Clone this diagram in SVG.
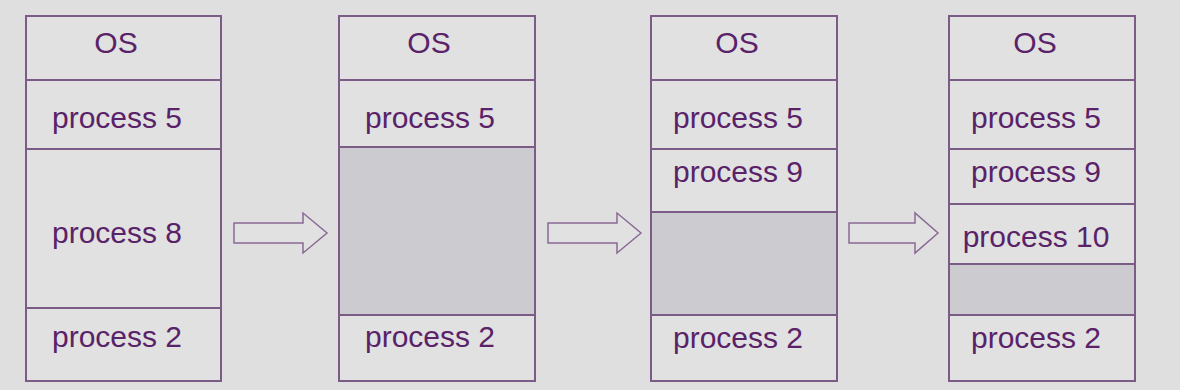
<svg xmlns="http://www.w3.org/2000/svg" width="1180" height="390" viewBox="0 0 1180 390">
<style>
.bg{fill:#dfdfdf}
.cell{fill:#e1e1e1;stroke:#7b5c86;stroke-width:2}
.free{fill:#cccbcf;stroke:#7b5c86;stroke-width:2}
.lbl{font-family:"Liberation Sans",Arial,sans-serif;font-size:30px;fill:#5a2268;text-anchor:middle}
.arr{fill:#e1e1e1;stroke:#8a6a95;stroke-width:1.5;stroke-linejoin:miter}
</style>
<rect class="bg" x="0" y="0" width="1180" height="390"/>
<g id="mem1">
<rect class="cell" x="26" y="16" width="195" height="64"/>
<rect class="cell" x="26" y="80" width="195" height="69"/>
<rect class="cell" x="26" y="149" width="195" height="159"/>
<rect class="cell" x="26" y="308" width="195" height="73"/>
<text class="lbl" x="116" y="53">OS</text>
<text class="lbl" x="117" y="128">process 5</text>
<text class="lbl" x="117" y="243">process 8</text>
<text class="lbl" x="117" y="347">process 2</text>
</g>
<g id="mem2">
<rect class="cell" x="339" y="16" width="196" height="64"/>
<rect class="cell" x="339" y="80" width="196" height="67"/>
<rect class="free" x="339" y="147" width="196" height="168"/>
<rect class="cell" x="339" y="315" width="196" height="66"/>
<text class="lbl" x="429" y="53">OS</text>
<text class="lbl" x="430" y="128">process 5</text>
<text class="lbl" x="430" y="347">process 2</text>
</g>
<g id="mem3">
<rect class="cell" x="651" y="16" width="186" height="64"/>
<rect class="cell" x="651" y="80" width="186" height="69"/>
<rect class="cell" x="651" y="149" width="186" height="63"/>
<rect class="free" x="651" y="212" width="186" height="103"/>
<rect class="cell" x="651" y="315" width="186" height="66"/>
<text class="lbl" x="737" y="53">OS</text>
<text class="lbl" x="738" y="128">process 5</text>
<text class="lbl" x="738" y="182">process 9</text>
<text class="lbl" x="738" y="348">process 2</text>
</g>
<g id="mem4">
<rect class="cell" x="949" y="16" width="186" height="64"/>
<rect class="cell" x="949" y="80" width="186" height="69"/>
<rect class="cell" x="949" y="149" width="186" height="55"/>
<rect class="cell" x="949" y="204" width="186" height="60"/>
<rect class="free" x="949" y="264" width="186" height="51"/>
<rect class="cell" x="949" y="315" width="186" height="66"/>
<text class="lbl" x="1035" y="53">OS</text>
<text class="lbl" x="1036" y="128">process 5</text>
<text class="lbl" x="1036" y="182">process 9</text>
<text class="lbl" x="1036" y="247">process 10</text>
<text class="lbl" x="1036" y="348">process 2</text>
</g>
<g id="connectors">
<path class="arr" d="M234,223 H303 V213 L327,233 L303,253 V243 H234 Z"/>
<path class="arr" d="M548,223 H617 V213 L641,233 L617,253 V243 H548 Z"/>
<path class="arr" d="M849,223 H915 V213 L938,233 L915,253 V243 H849 Z"/>
</g>
</svg>
